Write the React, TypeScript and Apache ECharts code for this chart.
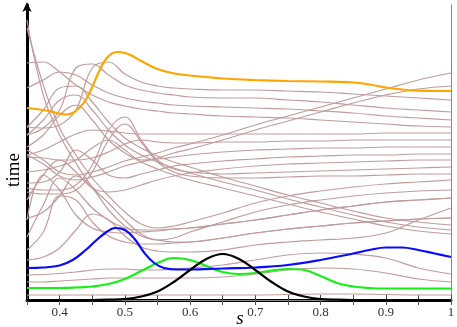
import React, { useEffect, useRef } from 'react';
import * as echarts from 'echarts';

// coarse sampling grid (s) for the brown lines
const sGrid = [0.35, 0.375, 0.4, 0.425, 0.45, 0.475, 0.5, 0.525, 0.55, 0.575, 0.6, 0.65, 0.7, 0.75, 0.8, 0.85, 0.9, 0.95, 1.0];

// brown lines (values in "time" units, 0 = bottom axis)
const L01 = [5, 5, 5, 5, 5, 5, 5, 5, 5, 5, 5, 5, 5, 5.5, 6, 6, 5.5, 5, 5];
const L02 = [18, 18, 19, 20, 21, 22, 22, 22, 22, 22, 22, 23, 26, 30, 32, 31, 27, 21, 18];
const L03 = [25, 25.5, 26.5, 28, 30, 31, 31, 30, 30, 31, 32, 35, 40, 45, 47, 46, 42, 32, 26];
const H1 = [40, 43, 52, 70, 86, 80, 64, 53, 49, 48, 48, 50, 55, 58, 60, 62, 67, 80, 92];
const H2 = [50, 68, 104, 100, 78, 64, 58, 56, 56, 57, 58, 62, 67, 71, 74, 77, 79, 81, 82];
const H3 = [80, 125, 110, 85, 72, 68, 67, 68, 69, 71, 72, 76, 80, 85, 90, 94, 98, 100, 102];
const Q1 = [63, 95, 122, 110, 92, 80, 72, 70, 70, 71, 72, 76, 80, 85, 90, 94, 98, 100, 102];
const Q2 = [82, 88, 104, 124, 112, 90, 74, 64, 60, 58, 58, 62, 67, 71, 74, 77, 79, 81, 82];
const S1 = [280, 205, 165, 137, 113, 97, 80, 66, 60, 62, 68, 78, 88, 95, 100, 104, 107, 109, 110];
const S2 = [272, 215, 172, 145, 122, 104, 88, 76, 72, 74, 78, 87, 97, 104, 109, 113, 116, 118, 120];
const T2 = [108, 106, 106, 110, 128, 160, 176, 158, 138, 128, 124, 122, 122, 123, 124, 124, 125, 126, 126];
const T1 = [112, 110, 110, 115, 135, 170, 183, 160, 140, 131, 128, 126, 127, 128, 129, 130, 131, 132, 133];
const H4 = [100, 125, 140, 128, 112, 108, 110, 115, 120, 124, 127, 131, 134, 136, 137, 138, 139, 140, 140];
const H5 = [117, 118, 128, 150, 140, 125, 122, 126, 130, 134, 136, 139, 141, 143, 144, 145, 145, 146, 146];
const H6 = [128, 130, 134, 140, 152, 160, 150, 140, 141, 143, 145, 148, 150, 151, 152, 152, 153, 153, 153];
const H7 = [143, 142, 140, 140, 142, 148, 156, 160, 158, 157, 157, 158, 158, 159, 159, 160, 160, 160, 160];
const H8 = [145, 150, 158, 166, 170, 169, 167, 166, 166, 166, 166, 166, 166, 166, 166, 166, 167, 167, 167];
const R2 = [145, 136, 124, 120, 123, 128, 134, 138, 142, 147, 151, 160, 170, 179, 188, 197, 205, 211, 214];
const R1 = [150, 140, 128, 125, 128, 133, 139, 143, 147, 152, 156, 165, 175, 184, 193, 202, 211, 220, 227];
const D1 = [153, 165, 185, 195, 180, 160, 147, 138, 131, 125, 120, 112, 104, 96, 88, 81, 74, 69, 66];
const D2 = [165, 180, 200, 205, 190, 170, 155, 145, 138, 132, 127, 118, 110, 101, 93, 85, 78, 73, 70];
const D3 = [173, 190, 212, 214, 198, 178, 162, 152, 144, 138, 133, 123, 114, 105, 97, 89, 82, 78, 75];
const F1 = [237, 238, 228, 215, 205, 198, 194, 191, 189, 187, 186, 184, 183, 182, 180, 178, 176, 174, 173];
const F2 = [212, 220, 228, 225, 215, 207, 202, 199, 197, 195, 194, 193, 192, 191, 189, 187, 184, 182, 180];
const F3 = [165, 172, 190, 232, 236, 225, 215, 210, 207, 205, 203, 202, 202, 200, 198, 195, 192, 190, 188];
const F4 = [173, 172, 175, 190, 232, 238, 226, 218, 214, 212, 211, 210, 210, 209, 208, 206, 204, 202, 200];

const brownLines = [L01, L02, L03, H1, H2, H3, Q1, Q2, S1, S2, T2, T1, H4, H5, H6, H7, H8, R2, R1, D1, D2, D3, F1, F2, F3, F4];

// highlighted lines: their own s samples and values
const blackS = [0.35, 0.45, 0.475, 0.5, 0.525, 0.55, 0.575, 0.6, 0.625, 0.65, 0.675, 0.7, 0.725, 0.75, 0.775, 0.8, 0.825, 0.85, 1.0];
const blackY = [0, 0, 0.3, 1, 3.5, 8.5, 18, 30, 41, 46, 41, 30, 18, 8.5, 3.5, 1, 0.3, 0, 0];

const greenS = [0.35, 0.375, 0.4, 0.425, 0.45, 0.475, 0.5, 0.525, 0.55, 0.575, 0.6, 0.625, 0.65, 0.675, 0.7, 0.725, 0.75, 0.775, 0.8, 0.825, 0.85, 0.875, 0.9, 1.0];
const greenY = [12, 12, 12, 12.5, 13.5, 16, 21, 29, 37, 42, 40, 34, 28, 26, 27, 29.5, 31, 30, 24, 17, 13.5, 12, 11.5, 11.5];

const blueS = [0.35, 0.375, 0.4, 0.42, 0.44, 0.455, 0.47, 0.485, 0.5, 0.515, 0.53, 0.545, 0.56, 0.58, 0.6, 0.65, 0.7, 0.75, 0.8, 0.85, 0.875, 0.9, 0.925, 0.95, 0.975, 1.0];
const blueY = [32, 32.5, 34.5, 40, 50, 59, 67, 72, 70, 61, 47, 37, 32, 30.5, 30.5, 31.5, 32.5, 35, 40, 46.5, 50, 52.5, 52.5, 50, 46.5, 43];

const orangeS = [0.35, 0.375, 0.4, 0.41, 0.42, 0.43, 0.44, 0.45, 0.46, 0.47, 0.48, 0.49, 0.5, 0.51, 0.525, 0.55, 0.575, 0.6, 0.625, 0.65, 0.7, 0.75, 0.8, 0.85, 0.875, 0.9, 0.925, 0.95, 1.0];
const orangeY = [192, 190, 186.5, 185.5, 187, 192, 200, 213, 228, 240, 246.5, 248, 247, 244.5, 239, 231, 226.5, 224.5, 223, 221.5, 220, 219, 218.5, 217.5, 215.5, 212.5, 210.5, 209.3, 209];

const serif = 'Liberation Serif';

export default function App() {
  const ref = useRef<HTMLDivElement>(null);
  useEffect(() => {
    const chart = echarts.init(ref.current!, null, { renderer: 'svg' });
    const brownSeries = brownLines.map((arr) => ({
      type: 'line',
      data: sGrid.map((s, i) => [s, arr[i]]),
      smooth: 0.4,
      symbol: 'none',
      silent: true,
      z: 2,
      lineStyle: { color: '#c29c9c', width: 1.2 },
    }));
    const mk = (xs: number[], ys: number[], color: string, width: number) => ({
      type: 'line',
      data: xs.map((s, i) => [s, ys[i]]),
      smooth: 0.4,
      symbol: 'none',
      silent: true,
      z: 3,
      lineStyle: { color, width },
    });
    const fmt = (v: number) => {
      const t = Math.round(v * 100);
      if (t % 10 !== 0) return '';
      if (t === 100) return '1';
      return (t / 100).toFixed(1);
    };
    chart.setOption({
      animation: false,
      grid: { left: 27, right: 6, top: 5, bottom: 27, containLabel: false, outerBoundsMode: 'none' },
      graphic: [
        {
          type: 'text', x: 12, y: 170, rotation: Math.PI / 2,
          style: { text: 'time', font: '19px "Liberation Serif"', fill: '#000', textAlign: 'center', textVerticalAlign: 'middle' },
        },
        {
          type: 'text', x: 240, y: 317,
          style: { text: 's', font: 'italic 19px "Liberation Serif"', fill: '#000', textAlign: 'center', textVerticalAlign: 'middle' },
        },
      ],
      xAxis: [
        {
          type: 'value', min: 0.35, max: 1, interval: 0.05, position: 'bottom',
          axisLine: { lineStyle: { color: '#000', width: 3 } },
          axisTick: { inside: true, length: 5, lineStyle: { color: '#444', width: 1 } },
          axisLabel: { formatter: fmt, fontFamily: serif, fontSize: 13, color: '#333', margin: 5 },
          splitLine: { show: false },
        },
        {
          type: 'value', min: 0.35, max: 1, interval: 0.05, position: 'top',
          axisLine: { lineStyle: { color: '#888', width: 1 } },
          axisTick: { inside: true, length: 5, lineStyle: { color: '#555', width: 1 } },
          axisLabel: { show: false },
          splitLine: { show: false },
        },
      ],
      yAxis: [
        {
          type: 'value', min: 0, max: 295, position: 'left',
          axisLine: { show: true, lineStyle: { color: '#000', width: 3 }, symbol: ['none', 'arrow'], symbolSize: [7, 10], symbolOffset: [0, 3] },
          axisTick: { show: false }, axisLabel: { show: false }, splitLine: { show: false },
        },
        {
          type: 'value', min: 0, max: 295, position: 'right',
          axisLine: { show: true, lineStyle: { color: '#888', width: 1 } },
          axisTick: { show: false }, axisLabel: { show: false }, splitLine: { show: false },
        },
      ],
      series: [
        ...brownSeries,
        mk(greenS, greenY, '#16f016', 2.2),
        mk(blueS, blueY, '#0a0aff', 2.2),
        mk(orangeS, orangeY, '#ffa500', 2.2),
        mk(blackS, blackY, '#000000', 2.2),
      ],
    });
    return () => chart.dispose();
  }, []);
  return <div ref={ref} style={{ position: 'fixed', left: 0, top: 0, width: 457, height: 327 }} />;
}
